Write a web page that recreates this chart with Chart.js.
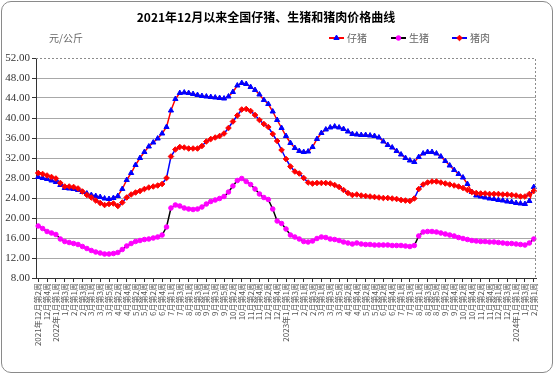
<!DOCTYPE html>
<html>
<head>
<meta charset="utf-8">
<script src="https://cdn.jsdelivr.net/npm/chart.js@4"></script>
<style>
body { margin:0; background:#fff; }
#wrap { position:relative; width:554px; height:374px; }
#frame { position:absolute; left:1px; top:1px; width:550px; height:370px; border:1px solid #8a8a8a; border-radius:10px; pointer-events:none; }
</style>
</head>
<body>
<div id="wrap">
<canvas id="priceChart" width="554" height="374"></canvas>
<div id="frame"></div>
</div>
<script>
//weekly categories, only every other one gets printed on the axis
var weekLabels = [
'2021年12月第2周','12月第3周','12月第4周','12月第5周',
'2022年1月第1周','1月第2周','1月第3周','1月第4周',
'2月第1周','2月第2周','2月第3周','2月第4周',
'3月第1周','3月第2周','3月第3周','3月第4周','3月第5周',
'4月第1周','4月第2周','4月第3周','4月第4周',
'5月第1周','5月第2周','5月第3周','5月第4周',
'6月第1周','6月第2周','6月第3周','6月第4周','6月第5周',
'7月第1周','7月第2周','7月第3周','7月第4周',
'8月第1周','8月第2周','8月第3周','8月第4周',
'9月第1周','9月第2周','9月第3周','9月第4周','9月第5周',
'10月第1周','10月第2周','10月第3周','10月第4周',
'11月第1周','11月第2周','11月第3周','11月第4周',
'12月第1周','12月第2周','12月第3周','12月第4周','12月第5周',
'2023年1月第1周','1月第2周','1月第3周','1月第4周',
'2月第1周','2月第2周','2月第3周','2月第4周',
'3月第1周','3月第2周','3月第3周','3月第4周','3月第5周',
'4月第1周','4月第2周','4月第3周','4月第4周',
'5月第1周','5月第2周','5月第3周','5月第4周',
'6月第1周','6月第2周','6月第3周','6月第4周','6月第5周',
'7月第1周','7月第2周','7月第3周','7月第4周',
'8月第1周','8月第2周','8月第3周','8月第4周','8月第5周',
'9月第1周','9月第2周','9月第3周','9月第4周',
'10月第1周','10月第2周','10月第3周','10月第4周',
'11月第1周','11月第2周','11月第3周','11月第4周','11月第5周',
'12月第1周','12月第2周','12月第3周','12月第4周',
'2024年1月第1周','1月第2周','1月第3周','1月第4周',
'2月第1周'
];

var seriesNames = ['仔猪', '生猪', '猪肉'];

//仔猪 (元/公斤)
var pigletPrice = [
28.2,28.0,27.8,27.5,27.2,26.6,26.0,25.9,25.8,25.6,
25.2,24.9,24.6,24.4,24.2,23.9,23.8,24.0,24.4,25.8,
27.6,29.0,30.6,32.0,33.2,34.3,35.1,35.9,36.9,38.2,
41.5,43.8,45.0,45.1,45.0,44.8,44.6,44.4,44.3,44.2,
44.1,44.0,43.9,44.3,45.2,46.5,47.0,46.8,46.2,45.6,
44.7,43.6,42.8,41.3,39.6,38.0,36.4,35.0,34.0,33.4,
33.2,33.3,34.2,35.8,37.0,37.7,38.1,38.3,38.1,37.8,
37.3,36.8,36.7,36.6,36.6,36.5,36.4,36.1,35.3,34.6,
34.1,33.4,32.7,32.0,31.5,31.2,32.2,32.9,33.2,33.2,
32.9,32.3,31.4,30.5,29.6,28.8,28.1,26.8,25.2,24.5,
24.3,24.1,23.9,23.8,23.6,23.5,23.3,23.2,23.0,22.9,
22.8,23.4,26.2
];

//生猪
var hogPrice = [
18.4,17.9,17.3,17.0,16.7,15.8,15.3,15.1,14.9,14.7,
14.3,13.9,13.5,13.2,13.0,12.8,12.8,12.9,13.1,13.7,
14.4,14.9,15.3,15.5,15.7,15.8,16.0,16.2,16.6,18.2,
22.0,22.6,22.4,22.0,21.8,21.7,21.8,22.2,22.8,23.3,
23.6,23.9,24.3,25.2,26.4,27.5,27.9,27.3,26.7,25.8,
24.8,24.1,23.7,21.8,19.4,18.9,17.8,16.6,16.2,15.8,
15.3,15.2,15.4,15.9,16.2,16.1,15.8,15.7,15.5,15.2,
15.0,14.8,15.0,14.8,14.7,14.7,14.6,14.6,14.6,14.6,
14.5,14.5,14.5,14.4,14.3,14.5,16.4,17.2,17.3,17.3,
17.2,17.0,16.8,16.6,16.4,16.1,15.9,15.7,15.5,15.4,
15.3,15.3,15.2,15.2,15.1,15.0,14.9,14.9,14.8,14.7,
14.6,15.0,15.8
];

//猪肉
var porkPrice = [
29.0,28.8,28.5,28.2,27.9,27.0,26.3,26.3,26.2,25.9,
25.3,24.6,24.1,23.5,23.0,22.6,22.8,22.9,22.4,23.1,
24.1,24.7,25.1,25.4,25.8,26.1,26.3,26.5,26.8,28.0,
32.3,33.7,34.2,34.1,33.9,33.9,33.9,34.4,35.3,35.8,
36.1,36.4,36.9,38.0,39.3,40.5,41.7,41.8,41.4,40.6,
39.6,38.8,38.2,36.8,35.4,33.6,31.8,30.3,29.3,28.9,
28.0,27.1,26.9,27.0,27.0,27.0,26.9,26.6,26.2,25.6,
25.0,24.6,24.7,24.5,24.4,24.3,24.2,24.1,24.0,24.0,
23.9,23.8,23.6,23.5,23.4,23.9,25.8,26.7,27.1,27.3,
27.3,27.1,26.9,26.7,26.5,26.3,26.0,25.6,25.2,25.0,
24.9,24.9,24.8,24.8,24.8,24.7,24.7,24.6,24.5,24.3,
24.3,24.8,25.4
];

var yMin = 8, yMax = 52, yStep = 4;

var cjk = '"Noto Sans CJK SC", sans-serif';

//line colour and marker colour differ, like the original sheet
var seriesStyle = [
	{ line:'#ff0000', mark:'#0000ff', shape:'triangle', r:3.0 },
	{ line:'#000000', mark:'#ff00ff', shape:'circle', r:2.3 },
	{ line:'#0000ff', mark:'#ff0000', shape:'rectRot', r:2.8 }
];

//title, unit, legend and the dashed top/right border
var decorPlugin = {
	id: 'decor',
	afterDraw: function(chart) {
		var ctx = chart.ctx;
		var a = chart.chartArea;
		ctx.save();
		ctx.strokeStyle = '#8c8c8c';
		ctx.lineWidth = 1;
		ctx.setLineDash([2, 2]);
		ctx.beginPath();
		ctx.moveTo(a.left, a.top + 0.5);
		ctx.lineTo(a.right - 0.5, a.top + 0.5);
		ctx.lineTo(a.right - 0.5, a.bottom);
		ctx.stroke();
		ctx.setLineDash([]);

		ctx.fillStyle = '#000';
		ctx.font = 'bold 12px ' + cjk;
		ctx.textAlign = 'center';
		ctx.textBaseline = 'middle';
		ctx.fillText('2021年12月以来全国仔猪、生猪和猪肉价格曲线', 266, 17);

		ctx.fillStyle = '#666';
		ctx.font = '10px ' + cjk;
		ctx.textAlign = 'left';
		ctx.fillText('元/公斤', 49, 38);

		var legendX = [329, 391, 452];
		for (var i = 0; i < seriesNames.length; i++) {
			var s = seriesStyle[i];
			var x = legendX[i];
			ctx.strokeStyle = s.line;
			ctx.lineWidth = 2;
			ctx.beginPath();
			ctx.moveTo(x, 38);
			ctx.lineTo(x + 15, 38);
			ctx.stroke();
			ctx.fillStyle = s.mark;
			ctx.strokeStyle = s.mark;
			ctx.lineWidth = 1;
			Chart.helpers.drawPoint(ctx, {pointStyle: s.shape, radius: s.r, borderWidth: 1, rotation: 0}, x + 7.5, 38);
			ctx.fillStyle = '#666';
			ctx.fillText(seriesNames[i], x + 18, 38);
		}
		ctx.restore();
	}
};

var seriesData = [pigletPrice, hogPrice, porkPrice];
var datasets = [];
for (var i = 0; i < seriesNames.length; i++) {
	datasets.push({
		label: seriesNames[i],
		data: seriesData[i],
		borderColor: seriesStyle[i].line,
		borderWidth: 1.5,
		pointStyle: seriesStyle[i].shape,
		pointRadius: seriesStyle[i].r,
		pointBackgroundColor: seriesStyle[i].mark,
		pointBorderColor: seriesStyle[i].mark,
		pointBorderWidth: 1,
		tension: 0,
		order: 2 - i
	});
}

var ctx = document.getElementById('priceChart').getContext('2d');
var myChart = new Chart(ctx, {
	type: 'line',
	data: { labels: weekLabels, datasets: datasets },
	plugins: [decorPlugin],
	options: {
		responsive: false,
		animation: false,
		layout: { padding: { top: 58, right: 18, left: 0, bottom: 0 } },
		plugins: { legend: { display: false }, title: { display: false }, tooltip: { enabled: false } },
		scales: {
			x: {
				offset: true,
				afterFit: function(scale) { scale.height = 96; },
				border: { color: '#333', width: 1 },
				grid: {
					drawOnChartArea: false,
					offset: false,
					tickLength: 4,
					tickColor: function(c) { return c.index % 2 === 0 ? '#333' : 'rgba(0,0,0,0)'; }
				},
				ticks: {
					autoSkip: false,
					maxRotation: 90,
					minRotation: 90,
					padding: 1,
					color: '#555',
					font: { family: cjk, size: 8 },
					callback: function(v, idx) { return idx % 2 === 0 ? weekLabels[idx] : ''; }
				}
			},
			y: {
				min: yMin,
				max: yMax,
				afterFit: function(scale) { scale.width = 36; },
				border: { color: '#333', width: 1 },
				grid: {
					color: function(c) { return (c.tick && (c.tick.value === yMax || c.tick.value === yMin)) ? 'rgba(0,0,0,0)' : '#a8a8a8'; },
					tickColor: '#333',
					tickLength: 4
				},
				ticks: {
					stepSize: yStep,
					padding: 2,
					color: '#333',
					font: { family: '"Liberation Serif", serif', size: 11 },
					callback: function(v) { return v.toFixed(2); }
				}
			}
		}
	}
});
</script>
</body>
</html>
